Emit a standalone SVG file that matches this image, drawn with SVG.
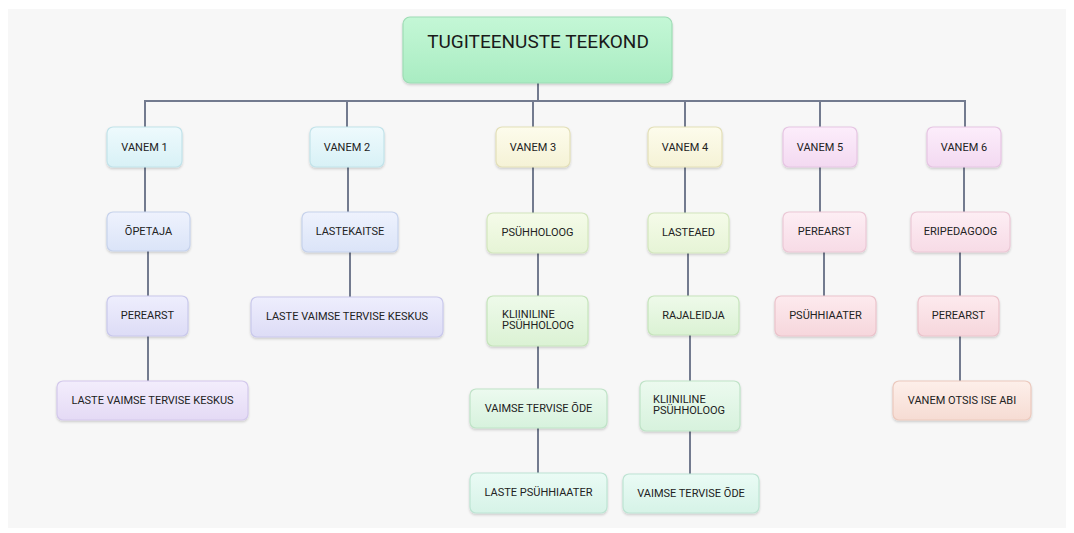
<svg xmlns="http://www.w3.org/2000/svg" width="1074" height="533" viewBox="0 0 1074 533">
<defs>
<filter id="sh" x="-20%" y="-20%" width="140%" height="150%">
<feDropShadow dx="0" dy="1.5" stdDeviation="1.2" flood-color="#000" flood-opacity="0.18"/>
</filter>
<linearGradient id="gRoot" x1="0" y1="0" x2="0" y2="1"><stop offset="0" stop-color="#c4f7d6"/><stop offset="1" stop-color="#a9ecc2"/></linearGradient>
<linearGradient id="gCyan" x1="0" y1="0" x2="0" y2="1"><stop offset="0" stop-color="#eefafd"/><stop offset="1" stop-color="#d8f1f6"/></linearGradient>
<linearGradient id="gBlue" x1="0" y1="0" x2="0" y2="1"><stop offset="0" stop-color="#eef2fd"/><stop offset="1" stop-color="#dbe4f8"/></linearGradient>
<linearGradient id="gLav" x1="0" y1="0" x2="0" y2="1"><stop offset="0" stop-color="#eeeefd"/><stop offset="1" stop-color="#dddcf6"/></linearGradient>
<linearGradient id="gPur" x1="0" y1="0" x2="0" y2="1"><stop offset="0" stop-color="#f3edfc"/><stop offset="1" stop-color="#e4daf5"/></linearGradient>
<linearGradient id="gYel" x1="0" y1="0" x2="0" y2="1"><stop offset="0" stop-color="#fdfcec"/><stop offset="1" stop-color="#f5f2d6"/></linearGradient>
<linearGradient id="gYG" x1="0" y1="0" x2="0" y2="1"><stop offset="0" stop-color="#f5fbe9"/><stop offset="1" stop-color="#e6f4d6"/></linearGradient>
<linearGradient id="gLG" x1="0" y1="0" x2="0" y2="1"><stop offset="0" stop-color="#eefaea"/><stop offset="1" stop-color="#dbf2d4"/></linearGradient>
<linearGradient id="gGr" x1="0" y1="0" x2="0" y2="1"><stop offset="0" stop-color="#ecfaef"/><stop offset="1" stop-color="#d7f2dd"/></linearGradient>
<linearGradient id="gMint" x1="0" y1="0" x2="0" y2="1"><stop offset="0" stop-color="#eafbf5"/><stop offset="1" stop-color="#d6f3e7"/></linearGradient>
<linearGradient id="gMag" x1="0" y1="0" x2="0" y2="1"><stop offset="0" stop-color="#fcedfb"/><stop offset="1" stop-color="#f3d9f1"/></linearGradient>
<linearGradient id="gPink" x1="0" y1="0" x2="0" y2="1"><stop offset="0" stop-color="#fdeef4"/><stop offset="1" stop-color="#f7dbe6"/></linearGradient>
<linearGradient id="gRose" x1="0" y1="0" x2="0" y2="1"><stop offset="0" stop-color="#fdeaee"/><stop offset="1" stop-color="#f6d6dc"/></linearGradient>
<linearGradient id="gPeach" x1="0" y1="0" x2="0" y2="1"><stop offset="0" stop-color="#fdefea"/><stop offset="1" stop-color="#f6dcd3"/></linearGradient>
</defs>
<style>
.n rect{filter:url(#sh);stroke-width:1.2}
.t{font-family:Roboto,"Liberation Sans",sans-serif;font-size:11px;fill:#222;text-anchor:middle}
.tl{font-family:Roboto,"Liberation Sans",sans-serif;font-size:11px;fill:#222}
.c{stroke:#737b8f;stroke-width:2;fill:none}
.cyan{fill:url(#gCyan);stroke:#c2e3ea}
.blue{fill:url(#gBlue);stroke:#c6d2ec}
.lav{fill:url(#gLav);stroke:#c9c8ec}
.pur{fill:url(#gPur);stroke:#d3c8ec}
.yel{fill:url(#gYel);stroke:#e3dfb8}
.yg{fill:url(#gYG);stroke:#d2e6bd}
.lg{fill:url(#gLG);stroke:#c5e4bb}
.gr{fill:url(#gGr);stroke:#bfe3c7}
.mint{fill:url(#gMint);stroke:#bde4d3}
.mag{fill:url(#gMag);stroke:#e6c5e3}
.pink{fill:url(#gPink);stroke:#ecc8d6}
.rose{fill:url(#gRose);stroke:#ebc3cb}
.peach{fill:url(#gPeach);stroke:#ecc9bd}
</style>
<rect x="0" y="0" width="1074" height="533" fill="#ffffff"/>
<rect x="8" y="9" width="1058" height="519" fill="#f7f7f7"/>

<g id="connectors">
<path class="c" d="M538 83 V101"/>
<path class="c" stroke-width="2.5" d="M145 128 V101 H965 V128"/>
<path class="c" d="M347 101 V128 M533 101 V128 M685 101 V128 M820 101 V128"/>
<path class="c" d="M145 167 V212 M148 251 V296 M148 336 V381"/>
<path class="c" d="M348 167 V212 M350 252 V297"/>
<path class="c" d="M533 167 V213 M538 253 V296 M538 346 V389 M538 428 V473"/>
<path class="c" d="M685 167 V213 M688 253 V296 M690 335 V381 M690 431 V474"/>
<path class="c" d="M820 167 V212 M824 252 V296"/>
<path class="c" d="M964 167 V212 M960 252 V296 M960 336 V381"/>
</g>

<g id="root" class="n"><rect x="403" y="17" width="269" height="66" rx="7" fill="url(#gRoot)" stroke="#9edcb5"/><text x="538" y="48" style="font-family:Roboto,'Liberation Sans',sans-serif;font-size:19px;fill:#1a1a1a;text-anchor:middle">TUGITEENUSTE TEEKOND</text></g>

<g id="vanem1" class="n"><rect class="cyan" x="107" y="127" width="75" height="40" rx="6"/><text class="t" x="144.5" y="151">VANEM 1</text></g>
<g id="vanem2" class="n"><rect class="cyan" x="310" y="127" width="74" height="40" rx="6"/><text class="t" x="347" y="151">VANEM 2</text></g>
<g id="vanem3" class="n"><rect class="yel" x="496" y="127" width="74" height="40" rx="6"/><text class="t" x="533" y="151">VANEM 3</text></g>
<g id="vanem4" class="n"><rect class="yel" x="648" y="127" width="74" height="40" rx="6"/><text class="t" x="685" y="151">VANEM 4</text></g>
<g id="vanem5" class="n"><rect class="mag" x="783" y="127" width="74" height="40" rx="6"/><text class="t" x="820" y="151">VANEM 5</text></g>
<g id="vanem6" class="n"><rect class="mag" x="927" y="127" width="74" height="40" rx="6"/><text class="t" x="964" y="151">VANEM 6</text></g>

<g id="opetaja" class="n"><rect class="blue" x="107" y="212" width="83" height="39" rx="6"/><text class="t" x="148.5" y="235">ÕPETAJA</text></g>
<g id="lastekaitse" class="n"><rect class="blue" x="302" y="212" width="96" height="40" rx="6"/><text class="t" x="350" y="235">LASTEKAITSE</text></g>
<g id="psyhholoog" class="n"><rect class="yg" x="487" y="213" width="101" height="40" rx="6"/><text class="t" x="537.5" y="236">PSÜHHOLOOG</text></g>
<g id="lasteaed" class="n"><rect class="yg" x="648" y="213" width="81" height="40" rx="6"/><text class="t" x="688.5" y="236">LASTEAED</text></g>
<g id="perearst5" class="n"><rect class="pink" x="783" y="212" width="83" height="40" rx="6"/><text class="t" x="824.5" y="235">PEREARST</text></g>
<g id="eripedagoog" class="n"><rect class="pink" x="911" y="212" width="99" height="40" rx="6"/><text class="t" x="960.5" y="235">ERIPEDAGOOG</text></g>

<g id="perearst1" class="n"><rect class="lav" x="107" y="296" width="81" height="40" rx="6"/><text class="t" x="147.5" y="319">PEREARST</text></g>
<g id="lvtk2" class="n"><rect class="lav" x="251" y="297" width="192" height="40" rx="6"/><text class="t" x="347" y="320">LASTE VAIMSE TERVISE KESKUS</text></g>
<g id="kliiniline3" class="n"><rect class="lg" x="487" y="296" width="101" height="50" rx="6"/><text class="tl" x="502" y="318">KLIINILINE</text><text class="tl" x="502" y="329">PSÜHHOLOOG</text></g>
<g id="rajaleidja" class="n"><rect class="lg" x="648" y="296" width="91" height="39" rx="6"/><text class="t" x="693.5" y="319">RAJALEIDJA</text></g>
<g id="psyhhiaater" class="n"><rect class="rose" x="775" y="296" width="101" height="40" rx="6"/><text class="t" x="825.5" y="319">PSÜHHIAATER</text></g>
<g id="perearst6" class="n"><rect class="rose" x="918" y="296" width="81" height="40" rx="6"/><text class="t" x="958.5" y="319">PEREARST</text></g>

<g id="lvtk1" class="n"><rect class="pur" x="57" y="381" width="191" height="39" rx="6"/><text class="t" x="152.5" y="404">LASTE VAIMSE TERVISE KESKUS</text></g>
<g id="vto3" class="n"><rect class="gr" x="470" y="389" width="137" height="39" rx="6"/><text class="t" x="538.5" y="412">VAIMSE TERVISE ÕDE</text></g>
<g id="kliiniline4" class="n"><rect class="gr" x="640" y="381" width="100" height="50" rx="6"/><text class="tl" x="653" y="403">KLIINILINE</text><text class="tl" x="653" y="414">PSÜHHOLOOG</text></g>
<g id="vanemotsis" class="n"><rect class="peach" x="893" y="381" width="138" height="39" rx="6"/><text class="t" x="962" y="404">VANEM OTSIS ISE ABI</text></g>

<g id="lastepsyhhiaater" class="n"><rect class="mint" x="470" y="473" width="137" height="40" rx="6"/><text class="t" x="538.5" y="496">LASTE PSÜHHIAATER</text></g>
<g id="vto4" class="n"><rect class="mint" x="623" y="474" width="136" height="39" rx="6"/><text class="t" x="691" y="497">VAIMSE TERVISE ÕDE</text></g>
</svg>
